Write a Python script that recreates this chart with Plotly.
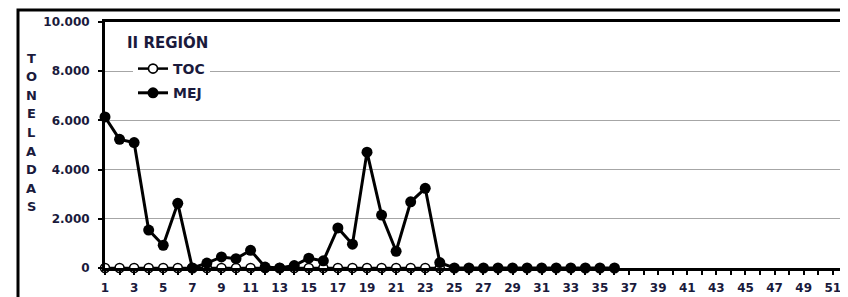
import plotly.graph_objects as go

weeks_toc = list(range(1, 25))
toc = [0] * 24
weeks_mej = list(range(1, 37))
mej = [6140, 5230, 5100, 1540, 925, 2630, 0, 200, 450, 380, 720, 40,
       0, 100, 400, 290, 1630, 970, 4710, 2150, 680, 2690, 3240, 220,
       0, 0, 0, 0, 0, 0, 0, 0, 0, 0, 0, 0]
x_ticks = list(range(1, 52, 2))
y_ticks = [0, 2000, 4000, 6000, 8000, 10000]
title_letters = list("TONELADAS")

FONT = "DejaVu Sans, Liberation Sans, Arial, sans-serif"
TXT = "#1a1a3c"

# page body has an 8px default margin; compensate so the chart fills 848x297
OFF = 8
W, H = 848 - OFF, 297 - OFF
ml, mr, mt, mb = 105 - OFF, 5, 22 - OFF, 29
pw, ph = W - ml - mr, H - mt - mb

def px2x(px):
    return (px - OFF - ml) / pw

def px2y(py):
    return (H - mb - (py - OFF)) / ph

fig = go.Figure()
fig.add_trace(go.Scatter(
    x=weeks_toc, y=toc, name="TOC", mode="lines+markers", legendgroup="a",
    line=dict(color="black", width=2.5),
    marker=dict(symbol="circle", size=9, color="white", line=dict(color="black", width=1.6)),
    cliponaxis=False))
fig.add_trace(go.Scatter(
    x=weeks_mej, y=mej, name="MEJ", mode="lines+markers", legendgroup="b",
    line=dict(color="black", width=3),
    marker=dict(symbol="circle", size=11, color="black"),
    cliponaxis=False))

annotations = []
for i, ch in enumerate(title_letters):
    annotations.append(dict(
        text=ch, xref="paper", yref="paper", x=px2x(31), y=px2y(58 + i * 18.6),
        xanchor="center", yanchor="middle", showarrow=False,
        font=dict(family=FONT, size=13, color=TXT, weight="bold")))
annotations.append(dict(
    text="II REGIÓN", xref="paper", yref="paper", x=px2x(125), y=px2y(42),
    xanchor="left", yanchor="middle", showarrow=False,
    font=dict(family=FONT, size=15, color=TXT, weight="bold")))

fig.update_layout(
    width=W, height=H,
    margin=dict(l=ml, r=mr, t=mt, b=mb),
    paper_bgcolor="white", plot_bgcolor="white",
    separators=",.",
    showlegend=True,
    legend=dict(
        x=px2x(133), y=px2y(53), xanchor="left", yanchor="top",
        bgcolor="white", borderwidth=0, tracegroupgap=3,
        font=dict(family=FONT, size=14, color=TXT, weight="bold")),
    xaxis=dict(
        range=[1, 51.7], tickmode="array", tickvals=x_ticks,
        ticks="outside", ticklen=4, tickwidth=1.5, tickcolor="black",
        ticklabelstandoff=3,
        minor=dict(dtick=1, tick0=1, ticks="outside", ticklen=4, tickwidth=1.5, tickcolor="black"),
        showline=True, linecolor="black", linewidth=3, mirror=True,
        showgrid=False, zeroline=False, automargin=False,
        tickfont=dict(family=FONT, size=12, color=TXT, weight="bold")),
    yaxis=dict(
        range=[0, 10000], tickmode="array", tickvals=y_ticks, tickformat=",d",
        ticks="outside", ticklen=4, tickwidth=1.5, tickcolor="black",
        ticklabelstandoff=6,
        showline=True, linecolor="black", linewidth=3, mirror=True,
        showgrid=True, gridcolor="#a6a6a6", gridwidth=1, zeroline=False, automargin=False,
        tickfont=dict(family=FONT, size=12, color=TXT, weight="bold")),
    shapes=[dict(type="rect", xref="paper", yref="paper",
                 x0=px2x(18), x1=px2x(851), y0=px2y(320), y1=px2y(10),
                 line=dict(color="black", width=3), fillcolor="rgba(0,0,0,0)", layer="below")],
    annotations=annotations,
)

fig.write_html("out.html")
